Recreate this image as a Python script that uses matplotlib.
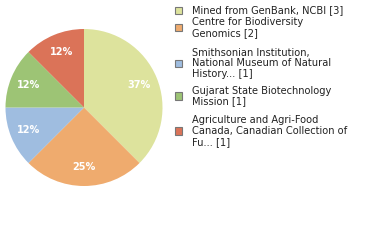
import matplotlib
matplotlib.use("Agg")
import matplotlib.pyplot as plt
from matplotlib.patches import Rectangle

# data
labels = ["Mined from GenBank, NCBI [3]",
          "Centre for Biodiversity\nGenomics [2]",
          "Smithsonian Institution,\nNational Museum of Natural\nHistory... [1]",
          "Gujarat State Biotechnology\nMission [1]",
          "Agriculture and Agri-Food\nCanada, Canadian Collection of\nFu... [1]"]
counts = [3, 2, 1, 1, 1]
colors = ["#dde39d", "#efab6e", "#9fbde0", "#9dc475", "#db7358"]

W, H = 380, 240
fig = plt.figure(figsize=(W / 100, H / 100), dpi=100)

# pie (pixel geometry)
cx, cy, r = 84, 107.5, 78.5
ax = fig.add_axes([(cx - r) / W, (H - cy - r) / H, 2 * r / W, 2 * r / H])
wedges, texts, autotexts = ax.pie(counts, colors=colors, startangle=90, counterclock=False,
                                  autopct=lambda p: "%d%%" % int(p), pctdistance=0.76,
                                  wedgeprops=dict(linewidth=0),
                                  textprops=dict(color="white", fontsize=7, fontweight="bold"))
ax.set_xlim(-1, 1)
ax.set_ylim(-1, 1)
ax.set_aspect("equal")
ax.axis("off")

# legend: each entry centred on its square
centres = [10.5, 27.5, 63.5, 96, 131]
for c, lab, yc in zip(colors, labels, centres):
    fig.patches.append(Rectangle((174.5 / W, (H - yc - 3.5) / H), 7.5 / W, 7.5 / H,
                                 transform=fig.transFigure, facecolor=c,
                                 edgecolor="#777777", linewidth=0.8))
    fig.text(192 / W, (H - yc) / H, lab, fontsize=7.1, va="center", ha="left",
             color="#222222", linespacing=1.1)

fig.savefig("out.png", dpi=100)
